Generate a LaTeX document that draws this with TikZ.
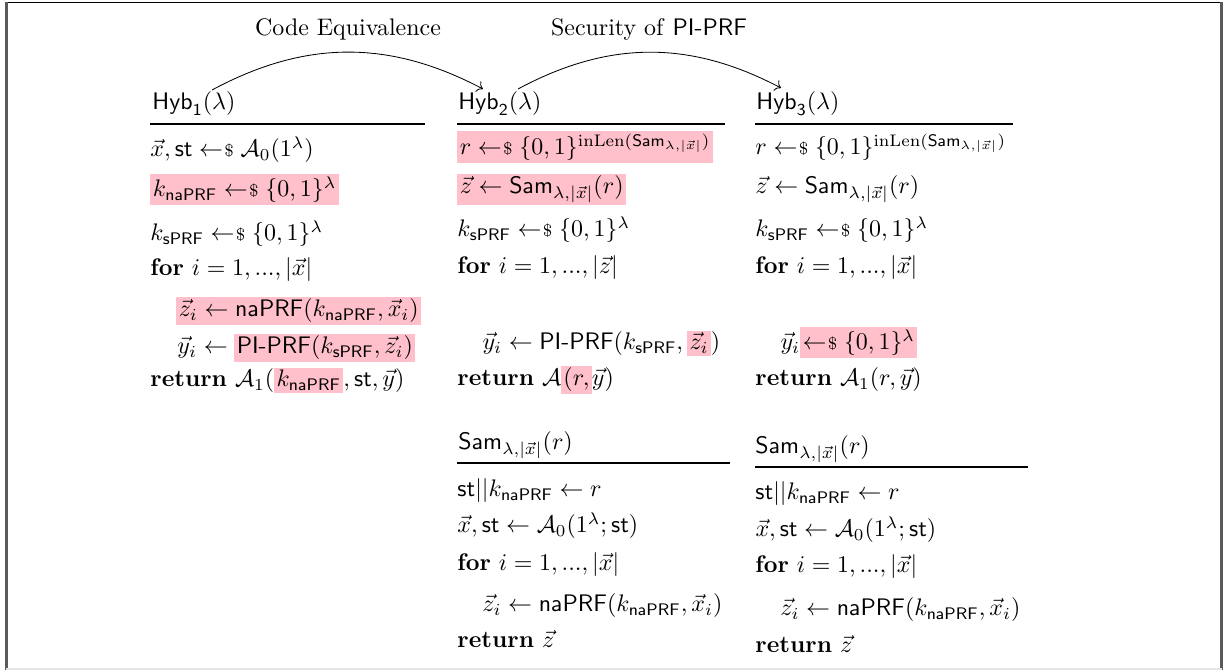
\documentclass[tikz,border=0pt]{standalone}
\usepackage{amsmath,amssymb}
\usetikzlibrary{arrows.meta}
\definecolor{hlpink}{RGB}{255,192,203}
\definecolor{framegray}{RGB}{90,90,90}
\definecolor{framelight}{RGB}{228,228,228}
\newcommand{\smpl}{\mathrel{\leftarrow\mkern-4mu{\scriptstyle\$}}}
\newcommand{\hl}[1]{{\setlength{\fboxsep}{1pt}\colorbox{hlpink}{$#1$}}}
\newcommand{\kna}{k_{\mathsf{naPRF}}}
\newcommand{\ksp}{k_{\mathsf{sPRF}}}
\newcommand{\SamX}{\mathsf{Sam}_{\lambda,|\vec{x}|}}
\newcommand{\kw}[1]{\textbf{#1}}
\begin{document}
\begin{tikzpicture}[x=0.418pt,y=-0.418pt,
  ln/.style={anchor=base west, inner sep=0pt},
  ttl/.style={anchor=base, inner sep=0pt},
  hrule/.style={line width=0.45pt},
  arc/.style={line width=0.35pt,->}]
\useasboundingbox (0,0) rectangle (1227,670);
% frame
\draw[black,line width=0.7pt] (6,2.5) -- (1222,2.5);
\draw[framegray,line width=0.9pt] (6.5,2) -- (6.5,670);
\draw[framegray,line width=0.9pt] (1221.5,2) -- (1221.5,670);
\draw[framelight,line width=0.8pt] (6,669) -- (1222,669);
% titles
\node[ttl] (t1) at (348,36) {Code Equivalence};
\node[ttl] (t2) at (649,36) {Security of \textsf{PI-PRF}};
% column 1
\node[ln] (hyb1) at (152,110) {$\mathsf{Hyb}_{\mathsf{1}}(\lambda)$};
\draw[hrule] (150,124) -- (425,124);
\node[ln] (c1a) at (150,157) {$\vec{x},\mathsf{st}\smpl\mathcal{A}_0(1^\lambda)$};
\node[ln] (c1b) at (150,197) {\hl{\kna\smpl\{0,1\}^\lambda}};
\node[ln] (c1c) at (150,241) {$\ksp\smpl\{0,1\}^\lambda$};
\node[ln] (c1d) at (150,276) {\kw{for} $i=1,...,|\vec{x}|$};
\node[ln] (c1e) at (176,317) {\hl{\vec{z}_i\leftarrow\mathsf{naPRF}(\kna,\vec{x}_i)}};
\node[ln] (c1f) at (177,354) {$\vec{y}_i\leftarrow\hl{\textsf{PI-PRF}(\ksp,\vec{z}_i)}$};
\node[ln] (c1g) at (150,387) {\kw{return} $\mathcal{A}_1(\hl{\kna},\mathsf{st},\vec{y})$};
% column 2
\node[ln] (hyb2) at (458,110) {$\mathsf{Hyb}_{\mathsf{2}}(\lambda)$};
\draw[hrule] (457,124) -- (725,124);
\node[ln] (c2a) at (457,155) {\hl{r\smpl\{0,1\}^{\mathrm{inLen}(\SamX)}}};
\node[ln] (c2b) at (457,194) {\hl{\vec{z}\leftarrow\SamX(r)}};
\node[ln] (c2c) at (457,237) {$\ksp\smpl\{0,1\}^\lambda$};
\node[ln] (c2d) at (457,274) {\kw{for} $i=1,...,|\vec{z}|$};
\node[ln] (c2e) at (482,350) {$\vec{y}_i\leftarrow\textsf{PI-PRF}(\ksp,\hl{\vec{z}_i})$};
\node[ln] (c2f) at (457,386) {\kw{return} $\mathcal{A}\hl{(r,}\vec{y})$};
% column 3
\node[ln] (hyb3) at (756,110) {$\mathsf{Hyb}_{\mathsf{3}}(\lambda)$};
\draw[hrule] (755,124) -- (1013,124);
\node[ln] (c3a) at (755,155) {$r\smpl\{0,1\}^{\mathrm{inLen}(\SamX)}$};
\node[ln] (c3b) at (755,194) {$\vec{z}\leftarrow\SamX(r)$};
\node[ln] (c3c) at (755,237) {$\ksp\smpl\{0,1\}^\lambda$};
\node[ln] (c3d) at (755,274) {\kw{for} $i=1,...,|\vec{x}|$};
\node[ln] (c3e) at (780,350) {$\vec{y}_i\hl{\smpl\{0,1\}^\lambda}$};
\node[ln] (c3f) at (755,386) {\kw{return} $\mathcal{A}_1(r,\vec{y})$};
% Sam in column 2
\node[ln] (s2h) at (458,450) {$\SamX(r)$};
\draw[hrule] (457,463) -- (730,463);
\node[ln] (s2a) at (457,497) {$\mathsf{st}||\kna\leftarrow r$};
\node[ln] (s2b) at (457,533) {$\vec{x},\mathsf{st}\leftarrow\mathcal{A}_0(1^\lambda;\mathsf{st})$};
\node[ln] (s2c) at (457,570) {\kw{for} $i=1,...,|\vec{x}|$};
\node[ln] (s2d) at (482,612) {$\vec{z}_i\leftarrow\mathsf{naPRF}(\kna,\vec{x}_i)$};
\node[ln] (s2e) at (457,648) {\kw{return} $\vec{z}$};
% Sam in column 3
\node[ln] (s3h) at (755,454) {$\SamX(r)$};
\draw[hrule] (755,467) -- (1028,467);
\node[ln] (s3a) at (755,500) {$\mathsf{st}||\kna\leftarrow r$};
\node[ln] (s3b) at (755,537) {$\vec{x},\mathsf{st}\leftarrow\mathcal{A}_0(1^\lambda;\mathsf{st})$};
\node[ln] (s3c) at (755,573) {\kw{for} $i=1,...,|\vec{x}|$};
\node[ln] (s3d) at (780,616) {$\vec{z}_i\leftarrow\mathsf{naPRF}(\kna,\vec{x}_i)$};
\node[ln] (s3e) at (755,652) {\kw{return} $\vec{z}$};
% arcs
\coordinate (a1s) at (212,90);
\coordinate (a1e) at (483,89);
\coordinate (a2s) at (518,89);
\coordinate (a2e) at (781,88);
\draw[arc] (a1s) to[bend left=28] (a1e);
\draw[arc] (a2s) to[bend left=28] (a2e);
\end{tikzpicture}
\end{document}
